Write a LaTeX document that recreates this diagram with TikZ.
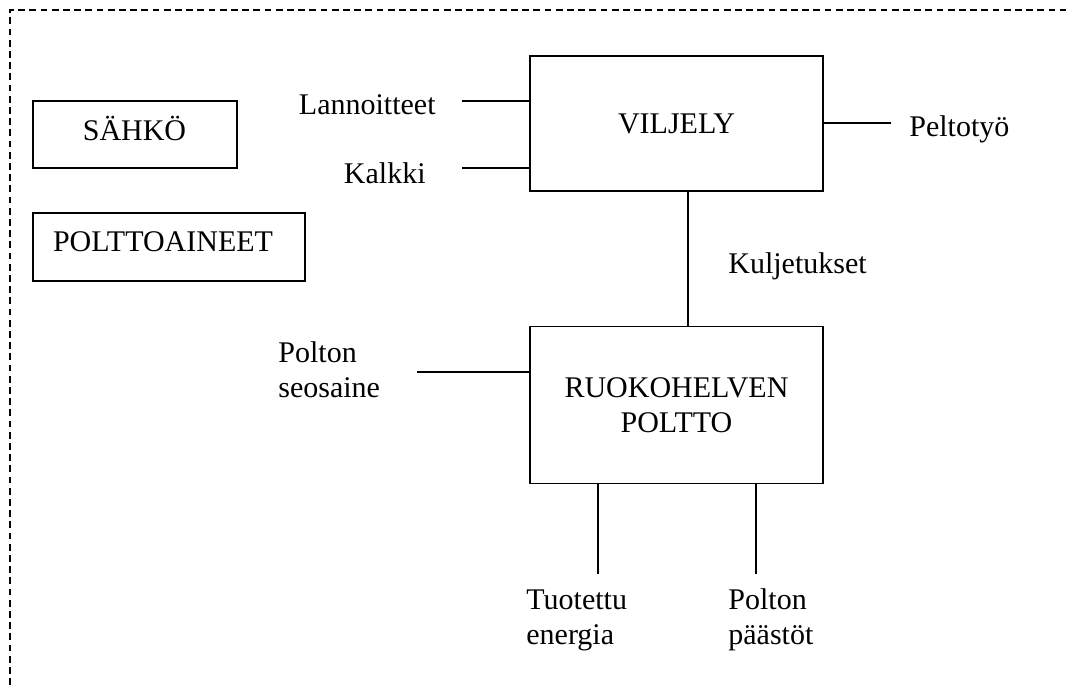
\documentclass[tikz,border=0pt]{standalone}
\usepackage{fontspec}
\setmainfont{Liberation Serif}
\begin{document}
\begin{tikzpicture}[x=0.5pt,y=-0.5pt,
  every node/.style={font=\fontsize{15}{17.5}\selectfont, inner sep=0pt},
  box/.style={draw, line width=0.65pt, rectangle},
  wire/.style={line width=0.65pt},
  frame/.style={line width=0.7pt, dash pattern=on 3.4pt off 2.2pt},
  lbl/.style={align=left}]
\useasboundingbox (0,0) rectangle (1066,685);
% dashed frame
\coordinate (fbl) at (10,685);
\coordinate (ftl) at (10,10);
\coordinate (ftr) at (1066,10);
\draw[frame] (fbl) -- (ftl) -- (ftr);
% left boxes
\node[box, minimum width=102pt, minimum height=33.5pt] (sahko) at (135,134.5) {};
\node (sahkoT) at (134.5,128) {SÄHKÖ};
\node[box, minimum width=136pt, minimum height=34pt] (polt) at (169,247) {};
\node (poltT) at (163,241.5) {POLTTOAINEET};
% main boxes
\node[box, minimum width=146.5pt, minimum height=67.5pt] (vil) at (676.5,123.5) {VILJELY};
\node[box, minimum width=146.5pt, minimum height=78.5pt, align=center] (ruoko) at (676.5,405) {RUOKOHELVEN\\POLTTO};
% inputs to VILJELY
\node[anchor=base east] (lan) at (436,114) {Lannoitteet};
\coordinate (lanE) at (462,101);
\draw[wire] (lanE) -- (lanE -| vil.west);
\node[anchor=base east] (kal) at (426,183) {Kalkki};
\coordinate (kalE) at (462,168);
\draw[wire] (kalE) -- (kalE -| vil.west);
% output Peltotyo
\coordinate (pelE) at (891,123);
\draw[wire] (pelE -| vil.east) -- (pelE);
\node[anchor=base west] (pel) at (909,136) {Peltotyö};
% Kuljetukset
\coordinate (kx) at (688,0);
\draw[wire] (vil.south -| kx) -- (ruoko.north -| kx);
\node[anchor=base west] (kul) at (728,273) {Kuljetukset};
% Polton seosaine
\node[lbl, anchor=north west] (seos) at (278,341.5) {Polton\\seosaine};
\coordinate (seosE) at (417,372);
\draw[wire] (seosE) -- (seosE -| ruoko.west);
% outputs
\coordinate (enE) at (598,574);
\draw[wire] (ruoko.south -| enE) -- (enE);
\node[lbl, anchor=north west] (en) at (526,589) {Tuotettu\\energia};
\coordinate (paE) at (756,574);
\draw[wire] (ruoko.south -| paE) -- (paE);
\node[lbl, anchor=north west] (pa) at (728,588.5) {Polton\\päästöt};
\end{tikzpicture}
\end{document}
